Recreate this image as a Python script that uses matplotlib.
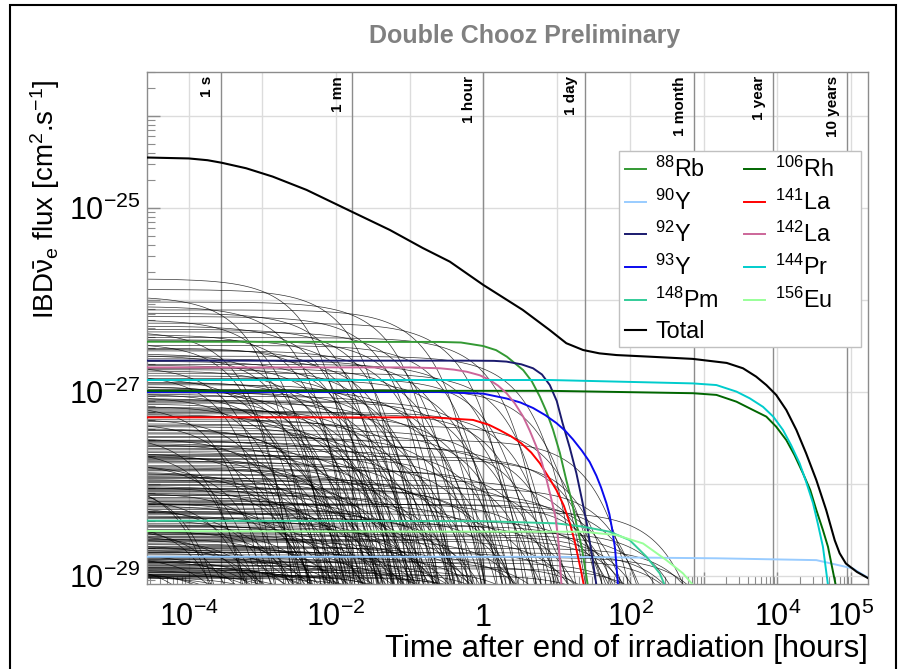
import numpy as np
import matplotlib
matplotlib.use("Agg")
import matplotlib.pyplot as plt
from matplotlib import ticker, transforms
from matplotlib.patches import Rectangle

plt.rcParams['font.family'] = ['Liberation Sans', 'DejaVu Sans']
plt.rcParams['mathtext.fontset'] = 'custom'
plt.rcParams['mathtext.rm'] = 'Liberation Sans'
plt.rcParams['mathtext.it'] = 'Liberation Sans:italic'
plt.rcParams['mathtext.bf'] = 'Liberation Sans:bold'
plt.rcParams['mathtext.default'] = 'regular'

# --- highlighted isotopes: time [hours] / flux [cm^-2 s^-1]
rb88_time = [2e-5, 0.26, 0.5, 1.0, 1.5, 2.1, 3.5, 4.6, 5.9, 7.2, 8.9, 11, 13.5, 16, 18.5, 22, 26.4]
rb88_flux = [3.52e-27, 3.5e-27, 3.45e-27, 3.16e-27, 2.85e-27, 2.42e-27, 1.73e-27, 1.3e-27, 8.9e-28,
             6.2e-28, 3.9e-28, 2.2e-28, 1.1e-28, 6.5e-29, 3.7e-29, 2.0e-29, 8.0e-30]

y90_time = [2e-5, 8.0, 1480, 33800, 1.06e5, 1.7e5]
y90_flux = [1.62e-29, 1.62e-29, 1.56e-29, 1.49e-29, 1.21e-29, 9.6e-30]

y92_time = [2e-5, 0.73, 1.4, 2.07, 3.3, 4.77, 6.3, 8.05, 10, 12.0, 15, 18.5, 22, 25.6, 30, 34.6]
y92_flux = [2.19e-27, 2.19e-27, 2.18e-27, 2.14e-27, 2.0e-27, 1.81e-27, 1.55e-27, 1.19e-27, 8.0e-28,
            4.6e-28, 2.5e-28, 1.31e-28, 6.8e-29, 3.74e-29, 1.7e-29, 8.0e-30]

y93_time = [2e-5, 0.25, 1.0, 2.08, 3.2, 4.77, 7, 9.9, 13, 16.6, 22, 28, 34.6, 40, 47.3, 52, 56, 62, 68]
y93_flux = [1.0e-27, 1.0e-27, 9.6e-28, 8.5e-28, 7.7e-28, 6.7e-28, 5.6e-28, 4.6e-28, 3.8e-28, 3.06e-28,
            2.3e-28, 1.74e-28, 1.23e-28, 9.2e-29, 6.2e-29, 4.7e-29, 3.4e-29, 2.0e-29, 8.0e-30]

pm148_time = [2e-5, 1.0, 9.9, 22.8, 52.5, 98, 166, 251, 293]
pm148_flux = [4.0e-29, 3.95e-29, 3.74e-29, 3.44e-29, 3.03e-29, 2.46e-29, 1.62e-29, 1.07e-29, 8.0e-30]

rh106_time = [2e-5, 8.0, 711, 1480, 2770, 4660, 7060, 9600, 13200, 17000, 22200, 27900, 33800,
              41500, 48600, 61800]
rh106_flux = [1.03e-27, 1.03e-27, 9.7e-28, 9.3e-28, 7.85e-28, 6.37e-28, 5.4e-28, 4.2e-28, 3.0e-28,
              2.07e-28, 1.31e-28, 8.6e-29, 5.2e-29, 3.16e-29, 2.08e-29, 8.0e-30]

la141_time = [2e-5, 0.2, 0.73, 1.2, 1.67, 2.4, 3.3, 4.5, 5.9, 7.7, 9.9, 12.5, 15.1, 17.5, 19.9, 21.6, 23.3]
la141_flux = [5.3e-28, 5.3e-28, 4.97e-28, 4.4e-28, 3.86e-28, 3.3e-28, 2.77e-28, 2.2e-28, 1.68e-28,
              1.2e-28, 8.6e-29, 5.8e-29, 3.74e-29, 2.4e-29, 1.49e-29, 1.1e-29, 8.0e-30]

la142_time = [2e-5, 0.1, 0.26, 0.4, 0.6, 0.9, 1.23, 1.6, 2.08, 2.7, 3.5, 4.3, 5.3, 6.3, 7.3, 8.4, 9.6,
              10.6, 11.6]
la142_flux = [1.85e-27, 1.85e-27, 1.81e-27, 1.75e-27, 1.66e-27, 1.52e-27, 1.35e-27, 1.17e-27, 9.7e-28,
              7.5e-28, 5.4e-28, 3.8e-28, 2.54e-28, 1.7e-28, 1.1e-28, 7.0e-29, 4.4e-29, 2.3e-29, 8.0e-30]

pr144_time = [2e-5, 8.0, 711, 1480, 2770, 4190, 6360, 8770, 11900, 15300, 20000, 24500, 30400,
              35300, 41500, 48600]
pr144_flux = [1.35e-27, 1.35e-27, 1.24e-27, 1.19e-27, 1.01e-27, 8.55e-28, 6.9e-28, 5.4e-28, 3.86e-28,
              2.65e-28, 1.68e-28, 1.06e-28, 6.2e-29, 3.74e-29, 2.08e-29, 8.0e-30]

eu156_time = [2e-5, 22.8, 64.7, 149, 309, 520, 711]
eu156_flux = [3.08e-29, 3.03e-29, 2.79e-29, 2.26e-29, 1.49e-29, 1.07e-29, 8.0e-30]

total_time = [2e-5, 1e-4, 1.8e-4, 2.78e-4, 6e-4, 1.38e-3, 3.98e-3, 0.0164, 0.0538, 0.151, 0.352,
              1.0, 3.45, 8.0, 13.5, 22.8, 38, 65, 184, 705, 2040, 3400, 5130, 7060, 9600,
              13200, 18100, 24500, 33800, 46000, 60000, 70000, 85000, 1.2e5, 1.7e5]
total_flux = [3.55e-25, 3.45e-25, 3.3e-25, 3.10e-25, 2.7e-25, 2.19e-25, 1.57e-25, 9.1e-26, 5.77e-26,
              3.67e-26, 2.61e-26, 1.46e-26, 7.8e-27, 4.72e-27, 3.39e-27, 2.86e-27, 2.63e-27,
              2.52e-27, 2.42e-27, 2.29e-27, 2.07e-27, 1.81e-27, 1.47e-27, 1.19e-27, 9.3e-28,
              6.37e-28, 3.86e-28, 2.16e-28, 1.1e-28, 5.2e-29, 2.45e-29, 1.77e-29, 1.37e-29,
              1.11e-29, 9.5e-30]

# --- all other fission products: initial flux [1e-27 cm^-2 s^-1] and half-life [hours]
bg_flux_e27 = [
    17, 13, 11, 9.5, 8.5, 7.8, 7.2, 6.6, 6.1, 5.6,
    5.2, 4.8, 4.5, 4.2, 3.9, 3.7, 3.4, 3.2, 3.0, 2.8,
    2.6, 2.45, 2.3, 2.15, 2.0, 1.9, 1.8, 1.7, 1.6, 1.5,
    1.42, 1.35, 1.28, 1.2, 1.13, 1.07, 1.0, 0.95, 0.9, 0.85,
    0.8, 0.76, 0.72, 0.68, 0.64, 0.6, 0.57, 0.54, 0.51, 0.48,
    0.45, 0.43, 0.4, 0.38, 0.36, 0.34, 0.32, 0.3, 0.285, 0.27,
    0.255, 0.24, 0.228, 0.216, 0.205, 0.195, 0.185, 0.175, 0.166, 0.158,
    0.15, 0.142, 0.135, 0.128, 0.121, 0.115, 0.109, 0.104, 0.099, 0.094,
    0.089, 0.085, 0.08, 0.076, 0.072, 0.069, 0.065, 0.062, 0.059, 0.056,
    0.053, 0.05, 0.048, 0.045, 0.043, 0.041, 0.039, 0.037, 0.035, 0.033,
    0.032, 0.03, 0.029, 0.027, 0.026, 0.025, 0.024, 0.022, 0.021, 0.02,
    0.019, 0.018, 0.017, 0.016, 0.0155, 0.015, 0.0145, 0.014, 0.0135, 0.013,
    0.0125, 0.012, 0.0118, 0.0115, 0.0112, 0.011, 0.0108, 0.0105, 0.0102, 0.01,
    0.0098, 0.0096, 0.11, 0.06, 0.035, 0.028, 0.018, 0.015, 0.05, 0.02,
    0.09, 0.3, 0.95, 0.82, 0.7, 0.62, 0.55, 0.5, 0.46, 0.42,
    0.39, 0.35, 0.33, 0.31, 0.29, 0.275, 0.26, 0.245, 0.232, 0.22,
    0.21, 0.2, 0.19, 0.18, 0.17, 0.162, 0.154, 0.146, 0.139, 0.132,
    0.125, 0.118, 0.112, 0.107, 0.101, 0.097, 0.092, 0.087, 0.083, 0.079,
    0.075, 0.071, 0.067, 0.064, 0.061, 0.058, 0.055, 0.052, 0.049, 0.047,
    0.044, 0.042, 0.04, 0.038, 0.036, 0.034, 0.031, 0.0305, 0.0285, 0.0275,
    0.0265, 0.0255, 0.0245, 0.0235, 0.0225, 0.0215, 0.0205, 0.0198, 0.019, 0.0183,
    0.0176, 0.017, 0.0163, 0.0158, 0.0152, 0.0147, 0.0142, 0.0138, 0.0133, 0.0128,
    0.0124, 0.012, 0.0116, 0.0113, 0.011, 0.0107, 0.0104, 0.0101, 0.0099, 0.0097,
    0.0095, 0.0093, 4.6, 3.6, 2.9, 2.5, 2.2, 1.95, 1.75, 1.55,
    1.4, 1.25, 1.15, 1.05, 0.98, 0.88, 0.78, 0.74, 0.66, 0.58,
    0.2, 0.08, 0.04, 0.025, 0.06, 0.014, 0.03, 0.016,
]
bg_halflife = [
    2.2e-3, 9e-3, 4e-4, 3.5e-2, 1.6e-3, 0.11, 6e-3, 2.5e-2, 8e-4, 0.3,
    4e-3, 1.5e-2, 0.06, 2e-3, 0.8, 1.1e-2, 3e-4, 0.18, 5e-3, 0.04,
    1.3e-3, 2.2, 0.02, 7e-3, 0.45, 2.5e-4, 0.09, 3e-3, 1.2, 0.015,
    6e-4, 0.25, 4.5e-3, 0.035, 1.8e-3, 3.5, 0.012, 9e-4, 0.14, 2.7e-3,
    0.6, 0.05, 1.5e-4, 8e-3, 0.02, 1.6, 3.5e-3, 0.3, 5e-4, 0.07,
    0.012, 6, 2.2e-3, 0.9, 0.028, 1e-4, 0.2, 5.5e-3, 0.045, 1.4e-3,
    2.8, 0.016, 0.5, 7e-4, 0.1, 3e-3, 12, 0.03, 2e-4, 0.35,
    9e-3, 1.3, 1.1e-3, 0.065, 4e-3, 0.2, 5e-5, 0.022, 4, 2.5e-3,
    0.6, 0.013, 7e-4, 0.15, 6.5e-3, 25, 0.04, 1.6e-3, 0.9, 3e-4,
    0.08, 0.018, 2.4, 4.5e-3, 0.3, 1e-3, 0.05, 8, 0.011, 1.5e-4,
    0.45, 3e-3, 0.12, 60, 0.028, 6e-4, 1.8, 7e-3, 0.25, 2e-3,
    0.07, 15, 4e-4, 0.7, 0.016, 1.2e-3, 5, 0.04, 8e-5, 0.18,
    5e-3, 150, 0.009, 3, 2.5e-4, 0.6, 0.03, 2.5e-3, 40, 0.1,
    8e-4, 1.3, 11, 20, 35, 120, 250, 300, 200, 400,
    35, 18, 4e-3, 0.02, 1.1e-3, 0.17, 6e-3, 0.04, 2.5e-4, 0.011,
    2.4e-3, 0.55, 0.075, 8e-4, 0.019, 3.2e-3, 1.9, 0.13, 1.2e-4, 0.009,
    0.033, 1.5e-3, 0.4, 5e-3, 0.085, 3e-4, 0.024, 7.5e-3, 2.1, 9e-4,
    0.055, 0.016, 2.8e-3, 0.26, 6e-5, 0.011, 1.3e-3, 0.7, 0.035, 4.2e-3,
    0.12, 2e-4, 0.02, 8.5e-3, 3.8, 1.7e-3, 0.065, 5e-4, 0.015, 0.2,
    3.3e-3, 1.1, 0.026, 9e-5, 6e-3, 0.09, 1.4e-3, 0.33, 0.013, 3.5e-4,
    0.045, 2.3e-3, 9, 0.16, 7e-3, 6e-4, 0.55, 0.024, 1.6e-3, 0.11,
    4e-3, 2.6, 1.8e-4, 0.06, 0.0105, 8e-4, 0.4, 2.7e-3, 0.035, 30,
    5.5e-3, 0.21, 1.1e-3, 0.014, 1.4, 3.5e-4, 0.075, 0.0045, 0.9, 1.7e-3,
    0.05, 6e-5, 2.8e-4, 4.5e-2, 9e-3, 1.0e-3, 0.13, 4.5e-3, 0.02, 2e-4,
    0.7, 0.008, 1.3e-3, 0.09, 0.03, 5e-4, 0.35, 2.2e-3, 0.011, 1.0,
    9, 14, 22, 50, 45, 90, 180, 600,
]

marker_hours = [1 / 3600, 1 / 60, 1, 24, 730, 8766, 87660]
marker_text = ['1 s', '1 mn', '1 hour', '1 day', '1 month', '1 year', '10 years']

x_tick_pos = [1e-4, 1e-3, 1e-2, 1e-1, 1, 1e1, 1e2, 1e3, 1e4, 1e5]
x_tick_text = [r'$10^{-4}$', '', r'$10^{-2}$', '', '1', '', r'$10^{2}$', '', r'$10^{4}$', r'$10^{5}$']
y_tick_pos = [1e-29, 1e-28, 1e-27, 1e-26, 1e-25, 1e-24]
y_tick_text = [r'$10^{-29}$', '', r'$10^{-27}$', '', r'$10^{-25}$', '']

W, H = 907, 669
fig = plt.figure(figsize=(W / 100, H / 100), dpi=100)
ax = fig.add_axes([147 / W, 85 / H, 721 / W, 512 / H])
ax.set_xscale('log')
ax.set_yscale('log')
ax.set_xlim(2.7e-5, 1.7e5)
ax.set_ylim(8.2e-30, 3.0e-24)

# decay curves of the remaining isotopes
t = np.logspace(-4.7, 5.4, 900)
for a, th in zip(bg_flux_e27, bg_halflife):
    f = np.maximum(a * 1e-27 * 0.5 ** (t / th), 1e-40)
    ax.plot(t, f, color='black', lw=0.5, alpha=0.8, zorder=2)

isotopes = [
    (r'$^{88}$Rb', rb88_time, rb88_flux, '#339933'),
    (r'$^{90}$Y', y90_time, y90_flux, '#99ccff'),
    (r'$^{92}$Y', y92_time, y92_flux, '#1a1a6e'),
    (r'$^{93}$Y', y93_time, y93_flux, '#0a0aee'),
    (r'$^{148}$Pm', pm148_time, pm148_flux, '#33cc99'),
    (r'$^{106}$Rh', rh106_time, rh106_flux, '#006600'),
    (r'$^{141}$La', la141_time, la141_flux, '#ff0000'),
    (r'$^{142}$La', la142_time, la142_flux, '#cc6699'),
    (r'$^{144}$Pr', pr144_time, pr144_flux, '#00cccc'),
    (r'$^{156}$Eu', eu156_time, eu156_flux, '#99ff99'),
]
handles = {}
for name, tt, ff, col in isotopes:
    ln, = ax.plot(tt, ff, color=col, lw=1.4, zorder=3)
    handles[name] = ln
tot, = ax.plot(total_time, total_flux, color='black', lw=1.5, zorder=4)
handles['Total'] = tot

# grid and time markers
ax.set_xticks(x_tick_pos)
ax.set_xticklabels(x_tick_text)
ax.set_yticks(y_tick_pos)
ax.set_yticklabels(y_tick_text)
ax.xaxis.set_minor_locator(ticker.LogLocator(base=10, subs=np.arange(2, 10), numticks=30))
ax.yaxis.set_minor_locator(ticker.LogLocator(base=10, subs=np.arange(2, 10), numticks=30))
ax.xaxis.set_minor_formatter(ticker.NullFormatter())
ax.yaxis.set_minor_formatter(ticker.NullFormatter())
ax.grid(True, which='major', color='#dcdcdc', lw=1, zorder=0)
ax.set_axisbelow(True)

mtrans = transforms.offset_copy(ax.get_xaxis_transform(), fig=fig, x=-7, y=-4, units='dots')
for h, s in zip(marker_hours, marker_text):
    ax.axvline(h, color='#8c8c8c', lw=1, zorder=1)
    ax.text(h, 1, s, transform=mtrans, rotation=90, ha='right', va='top',
            fontsize=11, fontweight='bold', zorder=5)

for sp in ax.spines.values():
    sp.set_color('#8c8c8c')
    sp.set_linewidth(1)
ax.tick_params(which='both', direction='in', colors='#8c8c8c', labelcolor='black',
               top=False, right=False)
ax.tick_params(which='major', length=9, width=1)
ax.tick_params(which='minor', length=6, width=0.8)
ax.tick_params(axis='y', labelsize=22, pad=5)
ax.tick_params(axis='x', labelsize=22, pad=30)
for lab in ax.get_xticklabels():
    lab.set_va('baseline')

# legend: fixed box, entries on top
ax.add_patch(Rectangle((619 / W, 1 - 347 / H), 242 / W, 196 / H, transform=fig.transFigure,
                       facecolor='white', edgecolor='#c0c0c0', lw=1.0, zorder=9))
order = [r'$^{88}$Rb', r'$^{90}$Y', r'$^{92}$Y', r'$^{93}$Y', r'$^{148}$Pm', 'Total',
         r'$^{106}$Rh', r'$^{141}$La', r'$^{142}$La', r'$^{144}$Pr', r'$^{156}$Eu']
leg = ax.legend([handles[k] for k in order], order, ncol=2, loc='upper left',
                bbox_to_anchor=(619 / W, 1 - 151 / H), bbox_transform=fig.transFigure,
                fontsize=16.8, frameon=False, borderpad=0.25, borderaxespad=0,
                handlelength=0.9, handletextpad=0.4, labelspacing=0.32, columnspacing=1.1)
leg.set_zorder(10)

fig.text(525 / W, 1 - 43 / H, 'Double Chooz Preliminary', ha='center', va='baseline',
         fontsize=18, fontweight='bold', color='#808080')
fig.text(868 / W, 1 - 657 / H, 'Time after end of irradiation [hours]', ha='right',
         va='baseline', fontsize=22.3)
fig.text(45 / W, 1 - 199 / H, r'IBD$\bar{\nu}_e$ flux [cm$^2$.s$^{-1}$]', rotation=90,
         ha='center', va='center', fontsize=20)

fig.add_artist(Rectangle((10 / W, -0.05), 886 / W, 1.05 - 5 / H, transform=fig.transFigure,
                         fill=False, edgecolor='black', lw=1.5, clip_on=False))

fig.savefig('out.png', dpi=100)
